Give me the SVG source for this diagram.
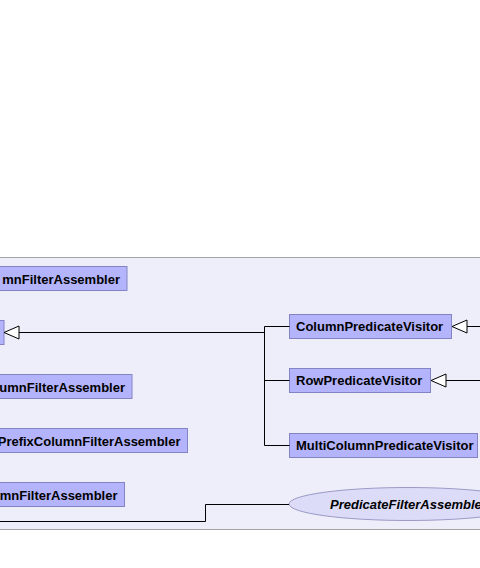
<svg xmlns="http://www.w3.org/2000/svg" width="480" height="568" viewBox="0 0 480 568">
<style>
.box{fill:#b4b4fc;stroke:#8484c4;stroke-width:1}
.lbl{font-family:"Liberation Sans",Arial,sans-serif;font-weight:bold;font-size:13px;fill:#000}
.it{font-style:italic}
.ln{fill:none;stroke:#000;stroke-width:1}
.tri{fill:#fff;stroke:#000;stroke-width:1}
</style>
<rect width="480" height="568" fill="#fff"/>
<rect x="-1" y="257.5" width="482" height="272" fill="#eeeefb" stroke="#a4a4a4"/>
<g id="n1"><rect class="box" x="-10" y="266.5" width="137" height="24"/><text class="lbl" x="120" y="284" text-anchor="end">mnFilterAssembler</text></g>
<g id="n2"><rect class="box" x="-10" y="320.5" width="14" height="24"/></g>
<g id="n3"><rect class="box" x="-10" y="374.5" width="142" height="24"/><text class="lbl" x="125" y="392" text-anchor="end">umnFilterAssembler</text></g>
<g id="n4"><rect class="box" x="-10" y="428.5" width="197.5" height="24"/><text class="lbl" x="180.5" y="446" text-anchor="end">PrefixColumnFilterAssembler</text></g>
<g id="n5"><rect class="box" x="-10" y="482.5" width="134.5" height="24"/><text class="lbl" x="117.5" y="500" text-anchor="end">mnFilterAssembler</text></g>
<g id="columnPredicateVisitor"><rect class="box" x="289.5" y="314.5" width="162" height="24"/><text class="lbl" x="296" y="331">ColumnPredicateVisitor</text></g>
<g id="rowPredicateVisitor"><rect class="box" x="289.5" y="368.5" width="141" height="24"/><text class="lbl" x="296" y="385">RowPredicateVisitor</text></g>
<g id="multiColumnPredicateVisitor"><rect class="box" x="289.5" y="433.5" width="188" height="24"/><text class="lbl" x="296" y="450">MultiColumnPredicateVisitor</text></g>
<g id="predicateFilterAssembler"><ellipse cx="408" cy="504" rx="119" ry="16.5" fill="#dcdcf8" stroke="#9a9ac6"/><text class="lbl it" x="330" y="508.5">PredicateFilterAssembler</text></g>
<g id="connectors">
<path class="ln" d="M19 332.5H264.5M264.5 326.5V445.5M264.5 326.5H289.5M264.5 380.5H289.5M264.5 445.5H289.5"/>
<polygon class="tri" points="4,332.5 19,326 19,339"/>
<path class="ln" d="M467 326.5H481"/>
<polygon class="tri" points="452,326.5 467,320 467,333"/>
<path class="ln" d="M446 380.5H481"/>
<polygon class="tri" points="431,380.5 446,374 446,387"/>
<path class="ln" d="M-1 521.5H205.5V504.5H289"/>
</g>
</svg>
